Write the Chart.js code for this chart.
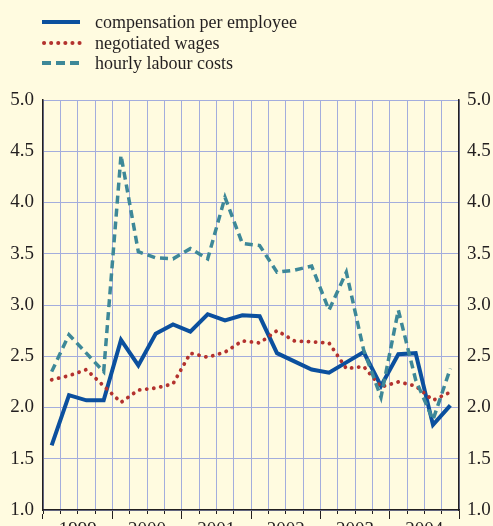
<!DOCTYPE html>
<html><head><meta charset="utf-8">
<script src="https://cdn.jsdelivr.net/npm/chart.js@4/dist/chart.umd.min.js"></script>
<style>
html,body{margin:0;padding:0;background:#fffbe0;overflow:hidden;width:493px;height:526px;}
#wrap{position:relative;width:493px;height:526px;overflow:hidden;background:#fffbe0;}
#legend{position:absolute;left:0;top:0;width:493px;height:80px;font-family:"Liberation Serif","Times New Roman",serif;font-size:18px;color:#231f20;}
.row{position:absolute;left:42px;height:20px;width:300px;white-space:nowrap;}
.row svg{position:absolute;left:0;top:0;}
.row span{position:absolute;left:53px;top:0;line-height:20px;}
canvas{position:absolute;left:0;top:0;}
</style></head>
<body>
<div id="wrap">
  <canvas id="c" width="493" height="540"></canvas>
  <div id="legend"></div>
</div>
<script>
// ---- data ----
const years = ['1999', '2000', '2001', '2002', '2003', '2004'];
const quarters = ['Q1', 'Q2', 'Q3', 'Q4'];
const seriesNames = ['compensation per employee', 'negotiated wages', 'hourly labour costs'];
const compensation = [1.63, 2.12, 2.07, 2.07, 2.66, 2.41, 2.72, 2.81, 2.74, 2.91, 2.85, 2.90,
                      2.89, 2.53, 2.45, 2.37, 2.34, 2.44, 2.54, 2.21, 2.52, 2.53, 1.83, 2.02];
const negotiatedWages = [2.27, 2.31, 2.37, 2.21, 2.05, 2.17, 2.19, 2.23, 2.53, 2.49, 2.54, 2.65,
                         2.63, 2.75, 2.65, 2.64, 2.63, 2.38, 2.40, 2.20, 2.25, 2.21, 2.07, 2.15];
const hourlyLabourCosts = [2.35, 2.71, 2.53, 2.35, 4.46, 3.52, 3.46, 3.45, 3.55, 3.45, 4.05, 3.60,
                           3.58, 3.32, 3.34, 3.38, 2.95, 3.32, 2.56, 2.10, 2.95, 2.27, 1.88, 2.38];
const yMin = 1.0, yMax = 5.0, yStep = 0.5;

// ---- styles ----
const colComp = '#0b509e', colNeg = '#b3322e', colHour = '#3d8898';
const gridCol = '#a3addd', axisCol = '#231f20';
const serif = '"Liberation Serif", "Times New Roman", serif';

const quarterLabels = [];
years.forEach(y => quarters.forEach(q => quarterLabels.push(y + ' ' + q)));

// legend (HTML text)
const legendDefs = [
  {name: seriesNames[0], color: colComp, dash: '', cap: 'butt', top: 12},
  {name: seriesNames[1], color: colNeg, dash: '0.1 7', cap: 'round', top: 33},
  {name: seriesNames[2], color: colHour, dash: '9 5', cap: 'butt', top: 53}
];
const lg = document.getElementById('legend');
legendDefs.forEach(d => {
  const r = document.createElement('div');
  r.className = 'row';
  r.style.top = d.top + 'px';
  r.innerHTML = '<svg width="40" height="20"><line x1="' + (d.cap === 'round' ? 2 : 0) + '" y1="10" x2="38" y2="10" stroke="' + d.color +
    '" stroke-width="4" stroke-linecap="' + d.cap + '"' + (d.dash ? ' stroke-dasharray="' + d.dash + '"' : '') + '/></svg><span>' + d.name + '</span>';
  lg.appendChild(r);
});

Chart.defaults.font.family = serif;
Chart.defaults.color = axisCol;

new Chart(document.getElementById('c'), {
  type: 'line',
  data: {
    labels: quarterLabels,
    datasets: [
      {label: seriesNames[2], data: hourlyLabourCosts, borderColor: colHour, borderWidth: 3.5,
       borderDash: [8, 5], pointRadius: 0, tension: 0, xAxisID: 'x', yAxisID: 'y'},
      {label: seriesNames[1], data: negotiatedWages, borderColor: colNeg, borderWidth: 3.8,
       borderDash: [0.1, 7], borderCapStyle: 'round', pointRadius: 0, tension: 0, xAxisID: 'x', yAxisID: 'y'},
      {label: seriesNames[0], data: compensation, borderColor: colComp, borderWidth: 4,
       pointRadius: 0, tension: 0, xAxisID: 'x', yAxisID: 'y'}
    ]
  },
  options: {
    responsive: false,
    animation: false,
    events: [],
    layout: {padding: {top: 100, left: 0, right: 0, bottom: 0}},
    plugins: {legend: {display: false}, tooltip: {enabled: false}},
    scales: {
      x: {
        type: 'category', position: 'bottom', offset: true,
        grid: {offset: true, color: gridCol, lineWidth: 1, drawTicks: true, tickLength: 4, tickColor: axisCol, tickWidth: 1},
        border: {display: true, color: axisCol, width: 1.5},
        ticks: {display: false},
        afterFit: s => { s.height = 4; }
      },
      x2: {
        type: 'category', position: 'bottom', offset: true, labels: years,
        grid: {offset: true, drawOnChartArea: false, drawTicks: true, tickLength: 5, tickColor: axisCol, tickWidth: 1},
        border: {display: false},
        ticks: {font: {size: 19}, padding: 0, maxRotation: 0, autoSkip: false, color: axisCol},
        afterFit: s => { s.height = 26; }
      },
      y: {
        position: 'left', min: yMin, max: yMax,
        grid: {color: gridCol, lineWidth: 1, drawTicks: false},
        border: {display: true, color: axisCol, width: 1.5},
        ticks: {stepSize: yStep, padding: 9, font: {size: 19}, color: axisCol, callback: v => v.toFixed(1)},
        afterFit: s => { s.width = 43; }
      },
      y2: {
        position: 'right', min: yMin, max: yMax,
        grid: {drawOnChartArea: false, drawTicks: false},
        border: {display: true, color: axisCol, width: 1.5},
        ticks: {stepSize: yStep, padding: 8, font: {size: 19}, color: axisCol, callback: v => v.toFixed(1)},
        afterFit: s => { s.width = 34; }
      }
    }
  }
});
</script>
</body></html>
